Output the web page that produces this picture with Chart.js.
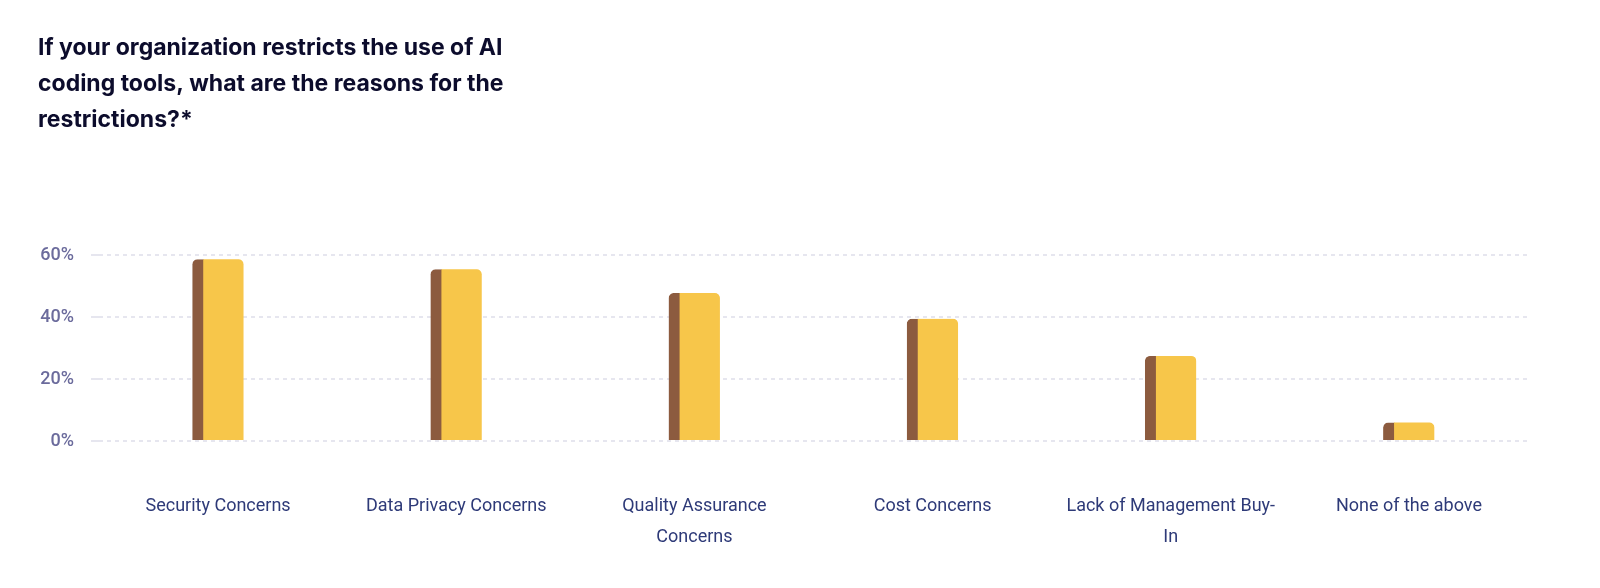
<!DOCTYPE html>
<html>
<head>
<meta charset="utf-8">
<script src="https://cdn.jsdelivr.net/npm/chart.js@4/dist/chart.umd.min.js"></script>
<style>
  html, body { margin: 0; padding: 0; background: #ffffff; }
  #wrap { width: 1600px; height: 588px; position: relative; }
</style>
</head>
<body>
<div id="wrap"><canvas id="restrictions-chart"></canvas></div>
<script>
const categories = [
    'Security Concerns',
    'Data Privacy Concerns',
    ['Quality Assurance', 'Concerns'],
    'Cost Concerns',
    ['Lack of Management Buy-', 'In'],
    'None of the above'
];
const shares = [58.7, 55.5, 47.8, 39.5, 27.5, 6.0];
const yTicks = [0, 20, 40, 60];
const titleLines = [
    'If your organization restricts the use of AI',
    'coding tools, what are the reasons for the',
    'restrictions?*'
];

const ctx = document.getElementById('restrictions-chart').getContext('2d');
new Chart(ctx, {
    type: 'bar',
    data: {
        labels: categories,
        datasets: [{
            data: shares,
            backgroundColor: '#f7c64a',
            borderColor: '#8c5b3f',
            borderWidth: { left: 11, top: 0, right: 0, bottom: 0 },
            borderSkipped: false,
            borderRadius: { topLeft: 5, topRight: 5, bottomLeft: 0, bottomRight: 0 },
            barThickness: 51
        }]
    },
    options: {
        responsive: true,
        maintainAspectRatio: false,
        animation: false,
        layout: { padding: { left: 38, right: 72, top: 30, bottom: 0 } },
        plugins: {
            legend: { display: false },
            tooltip: { enabled: false },
            title: {
                display: true,
                text: titleLines,
                align: 'start',
                color: '#0c0c2c',
                font: { family: 'Inter', size: 23, weight: '700', lineHeight: 1.57 },
                padding: { top: 0, bottom: 117 }
            }
        },
        scales: {
            x: {
                afterFit: (scale) => { scale.height = 147; },
                grid: { display: false, drawTicks: false },
                border: { display: false },
                ticks: {
                    color: '#2e3a78',
                    font: { family: 'Roboto', size: 18, lineHeight: 1.72 },
                    padding: 50,
                    maxRotation: 0,
                    autoSkip: false
                }
            },
            y: {
                min: 0,
                max: 60,
                afterFit: (scale) => { scale.width = 61; },
                afterBuildTicks: (scale) => { scale.ticks = yTicks.map(v => ({ value: v })); },
                grid: {
                    color: '#e6e6ef',
                    lineWidth: 2,
                    tickLength: 8,
                    tickColor: '#e6e6ef'
                },
                border: { display: false, dash: [4, 4] },
                ticks: {
                    color: '#6b6b9c',
                    font: { family: 'Roboto', size: 18, weight: '500' },
                    padding: 17,
                    callback: (v) => v + '%'
                }
            }
        }
    }
});
</script>
</body>
</html>
